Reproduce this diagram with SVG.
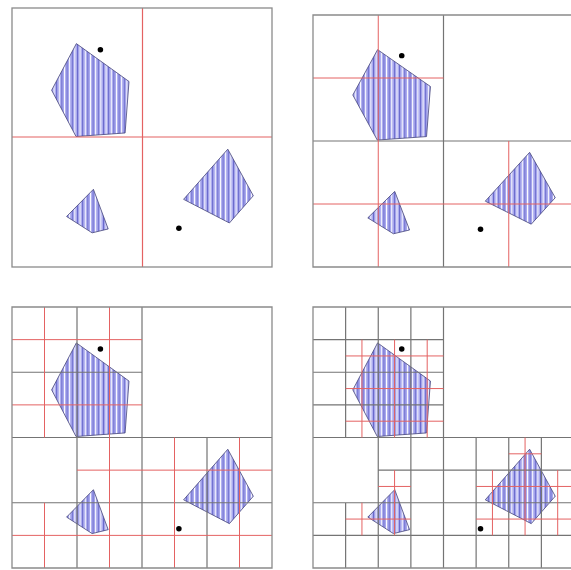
<svg xmlns="http://www.w3.org/2000/svg" width="571" height="570" viewBox="0 0 571 570">
<style>
.bd{fill:none;stroke:#8a8a8a;stroke-width:1.3;vector-effect:non-scaling-stroke}
.gr{fill:none;stroke:#747474;stroke-width:1.2;vector-effect:non-scaling-stroke}
.rd{fill:none;stroke:#e46262;stroke-width:1;vector-effect:non-scaling-stroke}
.poly{fill:url(#hatch);stroke:#44447a;stroke-width:0.8;vector-effect:non-scaling-stroke}
.dot{fill:#000}
</style>
<defs>
<pattern id="hatch" patternUnits="userSpaceOnUse" width="0.32" height="16">
<rect width="0.32" height="16" fill="#aaaaee"/>
<rect x="0" width="0.06" height="16" fill="#ffffff"/>
<rect x="0.17" width="0.05" height="16" fill="#5858c4"/>
</pattern>
<g id="shapes">
<polygon class="poly" points="3.96,2.2 7.2,4.54 6.96,7.72 3.94,7.94 2.44,5.08"/>
<polygon class="poly" points="5.01,11.2 5.92,13.65 4.93,13.89 3.36,12.88"/>
<polygon class="poly" points="13.28,8.72 14.85,11.6 13.38,13.28 10.56,11.82"/>
<circle class="dot" cx="5.44" cy="2.58" r="0.17"/>
<circle class="dot" cx="10.27" cy="13.6" r="0.17"/>
</g>
</defs>
<rect width="571" height="570" fill="#ffffff"/>
<g id="panel1">
<g transform="translate(12,8) scale(16.25,16.1875)">
<use href="#shapes"/>
</g>
<g id="connectors1">
<path fill="none" stroke="#e46262" stroke-width="1.2" d="M142.5 8V267M12 137H272"/>
</g>
<rect fill="none" stroke="#8a8a8a" stroke-width="1.3" x="12" y="8" width="260" height="259"/>
</g>
<g id="panel2" transform="translate(313,15) scale(16.3125,15.75)">
<use href="#shapes"/>
<g id="connectors2">
<path class="gr" d="M8 0V16M0 8H16"/>
<path class="rd" d="M4 0V16M0 4H8M0 12H16M12 8V16"/>
</g>
<rect class="bd" x="0" y="0" width="16" height="16"/>
</g>
<g id="panel3" transform="translate(12,307) scale(16.25,16.3125)">
<use href="#shapes"/>
<g id="connectors3">
<path class="gr" d="M8 0V16M0 8H16M4 0V16M0 4H8M0 12H16M12 8V16"/>
<path class="rd" d="M2 0V8M2 12V16M6 0V16M10 8V16M14 8V16M0 2H8M0 6H8M4 10H16M0 14H16"/>
</g>
<rect class="bd" x="0" y="0" width="16" height="16"/>
</g>
<g id="panel4" transform="translate(313,307) scale(16.3125,16.3125)">
<use href="#shapes"/>
<g id="connectors4">
<path class="gr" d="M8 0V16M0 8H16M4 0V16M0 4H8M0 12H16M12 8V16M2 0V8M2 12V16M6 0V16M10 8V16M14 8V16M0 2H8M0 6H8M4 10H16M0 14H16"/>
<path class="rd" d="M3 2V8M5 2V8M7 2V8M2 3H8M2 5H8M2 7H8M5 10V14M3 12V14M4 11H6M2 13H6M13 8V14M11 10V14M15 10V14M12 9H14M10 11H16M10 13H16"/>
</g>
<rect class="bd" x="0" y="0" width="16" height="16"/>
</g>
</svg>
